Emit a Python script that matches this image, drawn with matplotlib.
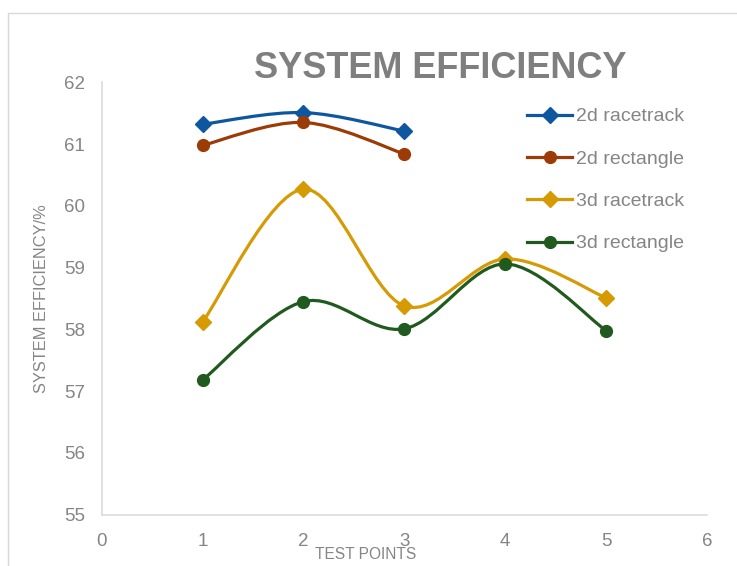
import matplotlib.pyplot as plt
import numpy as np
from matplotlib.path import Path
from matplotlib.patches import PathPatch, Rectangle
from matplotlib.lines import Line2D

plt.rcParams['font.family'] = ['Liberation Sans', 'DejaVu Sans']

# measured efficiency (%) at each test point
pts_2d = [1, 2, 3]
pts_3d = [1, 2, 3, 4, 5]
race_2d = [61.32, 61.51, 61.21]
rect_2d = [60.98, 61.35, 60.84]
race_3d = [58.12, 60.27, 58.38, 59.14, 58.51]
rect_3d = [57.18, 58.45, 58.01, 59.06, 57.98]

names = ['2d racetrack', '2d rectangle', '3d racetrack', '3d rectangle']
colors = ['#0E57A0', '#9C3B06', '#D69A05', '#215A1F']
markers = ['D', 'o', 'D', 'o']
xticks = [0, 1, 2, 3, 4, 5, 6]
yticks = [55, 56, 57, 58, 59, 60, 61, 62]

grey = '#858585'
axis_grey = '#D9D9D9'


def smooth_path(x, y):
    # cardinal spline through the points, built from cubic bezier segments
    p = np.column_stack([x, y]).astype(float)
    ext = np.vstack([p[0], p, p[-1]])
    verts = [p[0]]
    codes = [Path.MOVETO]
    for i in range(len(p) - 1):
        c1 = ext[i + 1] + (ext[i + 2] - ext[i]) / 6
        c2 = ext[i + 2] - (ext[i + 3] - ext[i + 1]) / 6
        verts += [c1, c2, p[i + 1]]
        codes += [Path.CURVE4] * 3
    return Path(verts, codes)


fig = plt.figure(figsize=(7.37, 5.66), dpi=100)
fig.patches.append(Rectangle((8 / 737, -0.1), 1.2, 1 - 13 / 566 + 0.1,
                             transform=fig.transFigure, fill=False,
                             edgecolor=axis_grey, linewidth=1.0))

ax = fig.add_axes([101.7 / 737, 1 - 514.7 / 566, 605.3 / 737, 432.4 / 566])

series = [(pts_2d, race_2d), (pts_2d, rect_2d), (pts_3d, race_3d), (pts_3d, rect_3d)]
handles = []
for k, (xs, ys) in enumerate(series):
    ax.add_patch(PathPatch(smooth_path(xs, ys), fill=False, edgecolor=colors[k],
                           linewidth=2.3, capstyle='round', zorder=3 + 2 * k))
    ms = 8 if markers[k] == 'D' else 8.5
    ax.plot(xs, ys, linestyle='none', marker=markers[k], markersize=ms,
            color=colors[k], zorder=4 + 2 * k)
    handles.append(Line2D([], [], color=colors[k], linewidth=2.3,
                          marker=markers[k], markersize=ms))

ax.set_xlim(0, 6)
ax.set_ylim(55, 62)
ax.set_xticks(xticks)
ax.set_yticks(yticks)
ax.tick_params(length=0, labelsize=13.5, labelcolor=grey)
ax.tick_params(axis='x', pad=13)
ax.tick_params(axis='y', pad=12)
for s in ['top', 'right']:
    ax.spines[s].set_visible(False)
for s in ['left', 'bottom']:
    ax.spines[s].set_color(axis_grey)
    ax.spines[s].set_linewidth(1.1)

ax.set_xlabel('TEST POINTS', fontsize=11.2, color=grey)
ax.xaxis.set_label_coords((366 - 101.7) / 605.3, -(547 - 514.7) / 432.4)
ax.set_ylabel('SYSTEM EFFICIENCY/%', fontsize=11.8, color=grey)
ax.yaxis.set_label_coords(-(101.7 - 49) / 605.3, 0.5)

fig.text(440 / 737, 1 - 69 / 566, 'SYSTEM EFFICIENCY', fontsize=26,
         fontweight='bold', color='#7F7F7F', ha='center', va='center')

leg = ax.legend(handles, names, loc='upper left',
                bbox_to_anchor=((519 - 101.7) / 605.3, 1 - (100 - 82.3) / 432.4),
                frameon=False, fontsize=14, handlelength=2.35,
                handletextpad=0.2, labelspacing=1.27, borderaxespad=0)
for t in leg.get_texts():
    t.set_color(grey)

fig.savefig('out.png', dpi=100)
